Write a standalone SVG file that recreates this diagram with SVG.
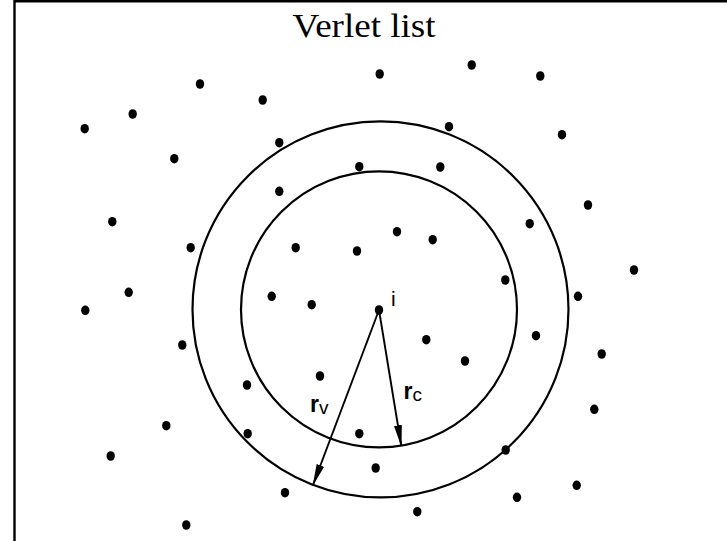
<svg xmlns="http://www.w3.org/2000/svg" width="727" height="541" viewBox="0 0 727 541">
<style>
.frame{fill:none;stroke:#000;stroke-width:2.4}
.ring{fill:none;stroke:#000;stroke-width:2.2}
.dot{fill:#000}
.arr{stroke:#000;stroke-width:1.9;fill:none}
.title{font-family:"Liberation Serif",serif;font-size:34px;fill:#000}
.lbl{font-family:"Liberation Sans",Arial,sans-serif;fill:#000}
</style>
<defs>
<marker id="ah" markerUnits="userSpaceOnUse" markerWidth="22" markerHeight="8" refX="21" refY="4" orient="auto">
<path d="M0,0 L22,4 L0,8 z" fill="#000"/>
</marker>
</defs>
<rect width="727" height="541" fill="#fff"/>
<path class="frame" d="M14.5,541 V1.2 H727"/>
<text class="title" x="364" y="37" text-anchor="middle" textLength="143" lengthAdjust="spacingAndGlyphs">Verlet list</text>
<g id="outer-circle"><circle class="ring" cx="380.5" cy="309.4" r="188"/></g>
<g id="inner-circle"><circle class="ring" cx="379" cy="309.4" r="138"/></g>
<g id="connectors">
<line class="arr" x1="379" y1="310" x2="313" y2="485" marker-end="url(#ah)"/>
<line class="arr" x1="379" y1="310" x2="401.3" y2="446" marker-end="url(#ah)"/>
</g>
<g id="particles">
<ellipse class="dot" cx="200" cy="84" rx="4.2" ry="4.8"/>
<ellipse class="dot" cx="262.7" cy="100" rx="4.2" ry="4.8"/>
<ellipse class="dot" cx="132.7" cy="114" rx="4.2" ry="4.8"/>
<ellipse class="dot" cx="84.7" cy="128.7" rx="4.2" ry="4.8"/>
<ellipse class="dot" cx="174.3" cy="158.7" rx="4.2" ry="4.8"/>
<ellipse class="dot" cx="279.3" cy="142.7" rx="4.2" ry="4.8"/>
<ellipse class="dot" cx="359.3" cy="166.7" rx="4.2" ry="4.8"/>
<ellipse class="dot" cx="279.3" cy="191.3" rx="4.2" ry="4.8"/>
<ellipse class="dot" cx="379.7" cy="74" rx="4.2" ry="4.8"/>
<ellipse class="dot" cx="471.7" cy="65" rx="4.2" ry="4.8"/>
<ellipse class="dot" cx="540.3" cy="76" rx="4.2" ry="4.8"/>
<ellipse class="dot" cx="449" cy="126.7" rx="4.2" ry="4.8"/>
<ellipse class="dot" cx="562" cy="134.7" rx="4.2" ry="4.8"/>
<ellipse class="dot" cx="440.3" cy="167" rx="4.2" ry="4.8"/>
<ellipse class="dot" cx="588" cy="205" rx="4.2" ry="4.8"/>
<ellipse class="dot" cx="112.3" cy="221.7" rx="4.2" ry="4.8"/>
<ellipse class="dot" cx="190.7" cy="247.7" rx="4.2" ry="4.8"/>
<ellipse class="dot" cx="128.7" cy="292.3" rx="4.2" ry="4.8"/>
<ellipse class="dot" cx="85.3" cy="310.3" rx="4.2" ry="4.8"/>
<ellipse class="dot" cx="182.3" cy="345" rx="4.2" ry="4.8"/>
<ellipse class="dot" cx="295.7" cy="247.7" rx="4.2" ry="4.8"/>
<ellipse class="dot" cx="357" cy="251" rx="4.2" ry="4.8"/>
<ellipse class="dot" cx="271.7" cy="296.3" rx="4.2" ry="4.8"/>
<ellipse class="dot" cx="311.7" cy="304.7" rx="4.2" ry="4.8"/>
<ellipse class="dot" cx="320" cy="376" rx="4.2" ry="4.8"/>
<ellipse class="dot" cx="397" cy="231.7" rx="4.2" ry="4.8"/>
<ellipse class="dot" cx="432.7" cy="239.7" rx="4.2" ry="4.8"/>
<ellipse class="dot" cx="529.7" cy="223.7" rx="4.2" ry="4.8"/>
<ellipse class="dot" cx="634" cy="270" rx="4.2" ry="4.8"/>
<ellipse class="dot" cx="505.3" cy="280" rx="4.2" ry="4.8"/>
<ellipse class="dot" cx="578" cy="296.3" rx="4.2" ry="4.8"/>
<ellipse class="dot" cx="426.3" cy="339.7" rx="4.2" ry="4.8"/>
<ellipse class="dot" cx="536" cy="335.7" rx="4.2" ry="4.8"/>
<ellipse class="dot" cx="465" cy="361" rx="4.2" ry="4.8"/>
<ellipse class="dot" cx="601.7" cy="354" rx="4.2" ry="4.8"/>
<ellipse class="dot" cx="247" cy="385" rx="4.2" ry="4.8"/>
<ellipse class="dot" cx="166.3" cy="425.7" rx="4.2" ry="4.8"/>
<ellipse class="dot" cx="247.7" cy="433.7" rx="4.2" ry="4.8"/>
<ellipse class="dot" cx="359.3" cy="433.7" rx="4.2" ry="4.8"/>
<ellipse class="dot" cx="110.7" cy="456" rx="4.2" ry="4.8"/>
<ellipse class="dot" cx="285" cy="492.7" rx="4.2" ry="4.8"/>
<ellipse class="dot" cx="186.3" cy="525" rx="4.2" ry="4.8"/>
<ellipse class="dot" cx="594.3" cy="409.3" rx="4.2" ry="4.8"/>
<ellipse class="dot" cx="505.7" cy="450" rx="4.2" ry="4.8"/>
<ellipse class="dot" cx="375.7" cy="468" rx="4.2" ry="4.8"/>
<ellipse class="dot" cx="576.7" cy="485.3" rx="4.2" ry="4.8"/>
<ellipse class="dot" cx="517" cy="497.3" rx="4.2" ry="4.8"/>
<ellipse class="dot" cx="417.3" cy="511.7" rx="4.2" ry="4.8"/>
</g>
<g id="particle-i">
<ellipse class="dot" cx="379" cy="310" rx="4.2" ry="4.8"/>
<text class="lbl" x="391" y="306" font-size="21">i</text>
</g>
<g id="label-rv"><text class="lbl" x="310" y="412" font-size="23"><tspan font-weight="bold">r</tspan><tspan font-size="19" dy="1.5">v</tspan></text></g>
<g id="label-rc"><text class="lbl" x="403.5" y="399" font-size="23"><tspan font-weight="bold">r</tspan><tspan font-size="19" dy="1.5">c</tspan></text></g>
</svg>
